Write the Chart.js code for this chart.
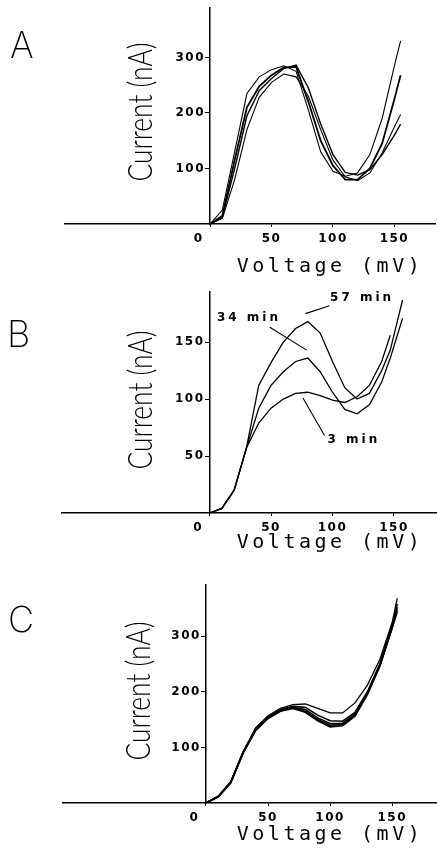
<!DOCTYPE html>
<html>
<head>
<meta charset="utf-8">
<script src="https://cdn.jsdelivr.net/npm/chart.js@4.4.1/dist/chart.umd.min.js"></script>
<style>
  html, body { margin: 0; padding: 0; background: #fff; }
  canvas { position: absolute; left: 0; display: block; }
</style>
</head>
<body>
<canvas id="chartA" width="437" height="284" style="top:0px"></canvas>
<canvas id="chartB" width="437" height="284" style="top:284px"></canvas>
<canvas id="chartC" width="437" height="285" style="top:568px"></canvas>
<script>
// Panel A - four repeated runs (mV / nA)
const voltsA = [-110, 0, 10, 20, 30, 40, 50, 60, 70, 80, 90, 100, 110, 120, 130, 140, 150, 155];
const runA1 = [0, 0, 25, 130, 235, 265, 278, 285, 275, 205, 130, 95, 86, 92, 125, 190, 285, 330];
const runA2 = [0, 0, 15, 115, 210, 248, 268, 282, 283, 220, 150, 105, 80, 80, 100, 145, 225, 268];
const runA3 = [0, 0, 10, 80, 170, 228, 255, 270, 265, 230, 170, 115, 85, 78, 92, 128, 175, 197];
const runA4 = [0, 0, 12, 100, 195, 240, 262, 280, 286, 245, 180, 125, 93, 88, 98, 125, 160, 180];

// Panel B - 3, 34 and 57 min
const voltsB = [-110, 0, 10, 20, 30, 40, 50, 60, 70, 80, 90, 100, 110, 120, 130, 140, 147, 157];
const min57 = [0, 0, 4, 20, 57, 112, 132, 150, 162, 168, 158, 133, 110, 100, 105, 125, 143, 187];
const min34 = [0, 0, 4, 20, 57, 92, 112, 124, 133, 136, 124, 106, 91, 87, 95, 115, 136, 171];
const min3 = [0, 0, 4, 20, 57, 79, 92, 100, 105, 106, 103, 99, 97, 102, 112, 133, 156, null];

// labels in panel B and their leader lines (data coords)
const notesB = ['57 min', '34 min', '3 min'];
const noteV = [98, 6, 96];
const noteI = [189, 171, 64];
const leadV = [[78, 97.5], [49, 79], [76, 93.5]];
const leadI = [[175, 182], [163, 143], [101, 68]];

// Panel C - five overlapping runs
const voltsC = [-110, 0, 10, 20, 30, 40, 50, 60, 70, 80, 90, 100, 110, 120, 130, 140, 150, 154];
const runC1 = [0, 0, 12, 38, 92, 135, 157, 170, 177, 178, 170, 162, 162, 180, 212, 258, 325, 368];
const runC2 = [0, 0, 12, 38, 92, 133, 155, 168, 174, 172, 158, 148, 147, 163, 200, 250, 320, 358];
const runC3 = [0, 0, 12, 37, 91, 132, 154, 167, 172, 168, 153, 143, 143, 160, 198, 248, 318, 352];
const runC4 = [0, 0, 11, 37, 90, 131, 153, 166, 171, 165, 150, 140, 141, 158, 197, 247, 316, 348];
const runC5 = [0, 0, 11, 36, 90, 130, 152, 165, 170, 163, 148, 137, 139, 156, 195, 246, 315, 344];

const xTicks = [0, 50, 100, 150];
const yTicksA = [100, 200, 300];
const yTicksB = [50, 100, 150];
const yTicksC = [100, 200, 300];

const pts = (xs, ys) => xs.map((x, i) => ({ x: x, y: ys[i] }));
const curve = (xs, ys, w) => ({ data: pts(xs, ys), borderColor: '#000', borderWidth: w || 1.3, pointRadius: 0, fill: false, tension: 0 });

const tickFont = { family: '"DejaVu Sans", sans-serif', size: 12, weight: 'bold' };

const decor = {
  id: 'decor',
  afterLayout(chart) {
    // the y axis sits at x = 0, push its labels off the tick marks
    const s = chart.scales.y;
    if (!s._shifted) {
      const orig = s.drawLabels;
      s.drawLabels = function (area) {
        this.ctx.save();
        this.ctx.translate(-5, 0);
        orig.call(this, area);
        this.ctx.restore();
      };
      s._shifted = true;
    }
  },
  beforeDraw(chart) {
    chart.ctx.letterSpacing = '1.5px';
  },
  afterDraw(chart, args, o) {
    const { ctx, scales } = chart;
    ctx.save();
    ctx.fillStyle = '#000';
    // panel letter
    ctx.letterSpacing = '0px';
    ctx.textAlign = 'left';
    ctx.textBaseline = 'alphabetic';
    ctx.font = '200 36px Inter, "DejaVu Sans", sans-serif';
    ctx.fillText(o.letter, o.letterPos[0], o.letterPos[1]);
    // x title
    ctx.font = '20px "DejaVu Sans Mono", monospace';
    ctx.letterSpacing = '3.5px';
    ctx.textAlign = 'center';
    ctx.textBaseline = 'middle';
    ctx.fillText('Voltage (mV)', o.xTitle[0], o.xTitle[1]);
    // notes
    if (o.notes) {
      ctx.font = 'bold 12px "DejaVu Sans", sans-serif';
      ctx.letterSpacing = '3px';
      ctx.textAlign = 'left';
      o.notes.forEach((t, i) => {
        ctx.fillText(t, scales.x.getPixelForValue(noteV[i]), scales.y.getPixelForValue(noteI[i]));
      });
    }
    // y title, condensed
    ctx.letterSpacing = '0px';
    ctx.font = '300 33px Lato, "Liberation Sans", sans-serif';
    const txt = 'Current (nA)';
    const w = ctx.measureText(txt).width;
    ctx.translate(o.yTitle[0], o.yTitle[1]);
    ctx.rotate(-Math.PI / 2);
    ctx.scale(139 / w, 1);
    ctx.textAlign = 'center';
    ctx.textBaseline = 'alphabetic';
    ctx.fillText(txt, 0, 0);
    ctx.restore();
  }
};

function panel(id, datasets, p) {
  new Chart(document.getElementById(id), {
    type: 'line',
    data: { datasets: datasets },
    plugins: [decor],
    options: {
      responsive: false,
      animation: false,
      devicePixelRatio: 1,
      layout: { padding: p.pad },
      plugins: { legend: { display: false }, tooltip: { enabled: false }, decor: p.decor },
      scales: {
        x: {
          type: 'linear', position: 'bottom', min: p.xMin, max: p.xMax,
          afterBuildTicks: s => { s.ticks = xTicks.map(v => ({ value: v })); },
          afterFit: s => { s.height = p.xH; s.paddingLeft = 0; s.paddingRight = 0; },
          ticks: { font: tickFont, color: '#000', padding: 5, autoSkip: false, maxRotation: 0,
                   callback: v => v === 0 ? '0    ' : String(v) },
          grid: { drawOnChartArea: false, tickLength: 3, color: '#000', lineWidth: 1 },
          border: { color: '#000', width: 1.5 }
        },
        y: {
          type: 'linear', position: { x: 0 }, min: 0, max: p.yMax,
          afterBuildTicks: s => { s.ticks = p.yTicks.map(v => ({ value: v })); },
          afterFit: s => { s.paddingTop = 0; s.paddingBottom = 0; },
          ticks: { font: tickFont, color: '#000', autoSkip: false },
          grid: { drawOnChartArea: false, tickLength: 4, color: '#000', lineWidth: 1 },
          border: { color: '#000', width: 1.5 }
        }
      }
    }
  });
}

panel('chartA', [
  curve(voltsA, runA1, 1.1), curve(voltsA, runA2, 1.8), curve(voltsA, runA3, 1.1), curve(voltsA, runA4, 1.4)
], {
  pad: { left: 65, right: 2, top: 8, bottom: 0 }, xH: 60,
  xMin: -118, xMax: 183, yMax: 389, yTicks: yTicksA,
  decor: { letter: 'A', letterPos: [10, 58], xTitle: [330, 267], yTitle: [152, 112] }
});

const leadSets = leadV.map((vs, i) => curve(vs, leadI[i], 1.1));
panel('chartB', [
  curve(voltsB, min57), curve(voltsB, min34), curve(voltsB, min3)
].concat(leadSets), {
  pad: { left: 62, right: 0, top: 8, bottom: 0 }, xH: 55,
  xMin: -120, xMax: 185, yMax: 194, yTicks: yTicksB,
  decor: { letter: 'B', letterPos: [7, 63], xTitle: [330, 259], yTitle: [152, 116], notes: notesB }
});

panel('chartC', [
  curve(voltsC, runC1), curve(voltsC, runC2, 1.6), curve(voltsC, runC3, 1.6), curve(voltsC, runC4, 1.6), curve(voltsC, runC5, 1.6)
], {
  pad: { left: 63, right: 0, top: 17, bottom: 0 }, xH: 50,
  xMin: -115, xMax: 186, yMax: 392, yTicks: yTicksC,
  decor: { letter: 'C', letterPos: [8, 64], xTitle: [330, 267], yTitle: [150, 123] }
});
</script>
</body>
</html>
